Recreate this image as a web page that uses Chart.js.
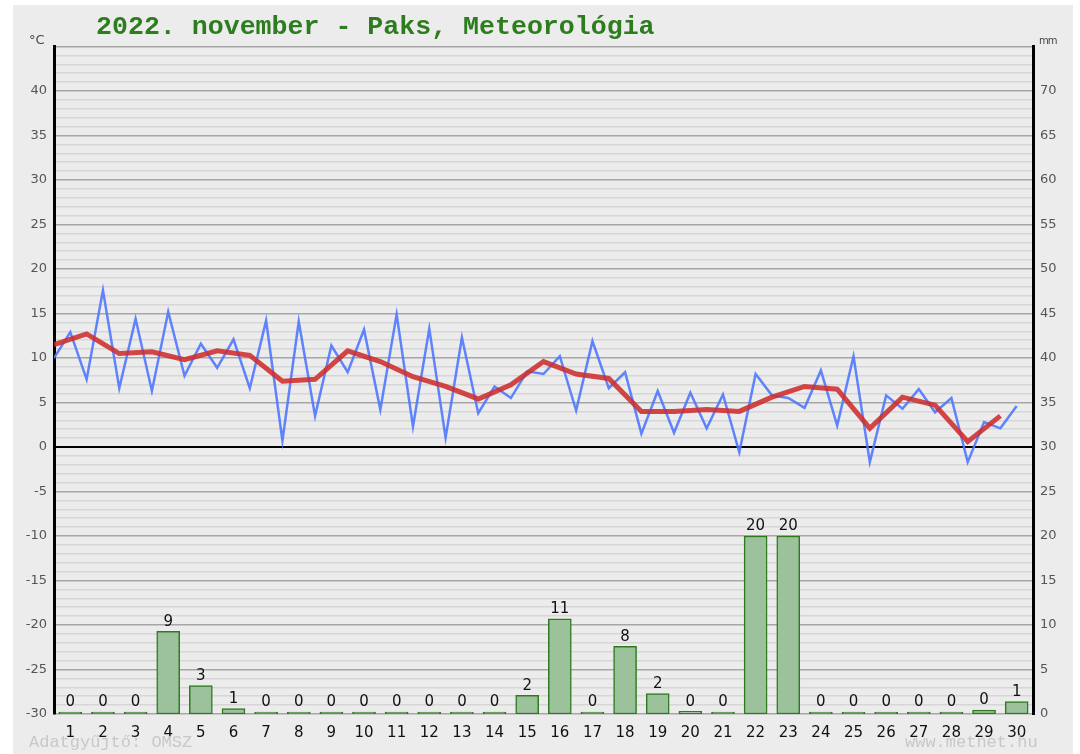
<!DOCTYPE html>
<html>
<head>
<meta charset="utf-8">
<script src="https://cdn.jsdelivr.net/npm/chart.js@4/dist/chart.umd.min.js"></script>
<style>
  body { margin: 0; background: #fff; }
  #panel { position: absolute; left: 13px; top: 5px; width: 1060px; height: 749px; background: #ececec; }
  #wrap { position: absolute; left: 0; top: 0; width: 1080px; height: 754px; }
  .txt { position: absolute; white-space: nowrap; }
  #title { left: 96px; top: 12px; font: bold 26.6px "Liberation Mono", monospace; color: #2d7d1e; }
  #unitL { left: 29px; top: 32px; font: 13px "DejaVu Sans", sans-serif; color: #444; }
  #unitR { left: 1039px; top: 35px; font: 10px "DejaVu Sans", sans-serif; color: #444; letter-spacing: -1px; }
  .foot { top: 733px; font: 17px "Liberation Mono", monospace; color: #c8c8c8; }
</style>
</head>
<body>
<div id="panel"></div>
<div id="wrap"><canvas id="grafico" width="1080" height="754"></canvas></div>
<div class="txt" id="title">2022. november - Paks, Meteorológia</div>
<div class="txt" id="unitL">°C</div>
<div class="txt" id="unitR">mm</div>
<div class="txt foot" style="left:29px">Adatgyűjtő: OMSZ</div>
<div class="txt foot" style="left:905px">www.metnet.hu</div>
<script>
// napok
const napok = ['1','2','3','4','5','6','7','8','9','10','11','12','13','14','15',
  '16','17','18','19','20','21','22','23','24','25','26','27','28','29','30'];

// csapadék (mm) naponta
const csapadek = [0, 0, 0, 9.3, 3.2, 0.6, 0, 0, 0, 0, 0, 0, 0, 0, 2.1,
  10.7, 0, 7.6, 2.3, 0.3, 0, 20, 20, 0, 0, 0, 0, 0, 0.45, 1.4];

// hőmérséklet, napi két mérés (°C)
const homerseklet = [
  10.0, 12.9, 7.6, 17.6, 6.6, 14.4, 6.3, 15.2, 8.0, 11.6,
  8.9, 12.1, 6.6, 14.2, 0.7, 14.1, 3.5, 11.4, 8.4, 13.2,
  4.2, 14.9, 2.3, 13.3, 1.05, 12.3, 3.8, 6.8, 5.5, 8.5,
  8.2, 10.2, 4.1, 11.9, 6.6, 8.4, 1.5, 6.3, 1.6, 6.1,
  2.1, 5.9, -0.6, 8.2, 5.8, 5.5, 4.4, 8.6, 2.4, 10.2,
  -1.7, 5.8, 4.3, 6.5, 3.9, 5.5, -1.7, 2.8, 2.1, 4.6
];

// napi középhőmérséklet (°C)
const atlag = [11.5, 12.7, 10.5, 10.7, 9.8, 10.8, 10.3, 7.4, 7.6, 10.8,
  9.6, 7.9, 6.8, 5.4, 7.0, 9.6, 8.2, 7.7, 4.0, 4.0,
  4.2, 4.0, 5.6, 6.8, 6.5, 2.1, 5.6, 4.7, 0.6, 3.5];

// tengelyek
const tempMin = -30, tempMax = 45;
const mmMin = 0, mmMax = 75;

const homPontok = homerseklet.map((v, i) => ({ x: i / 2, y: v }));
const atlagPontok = atlag.map((v, i) => ({ x: i, y: v }));

// számok az oszlopok fölé
const oszlopCimkek = {
  id: 'oszlopCimkek',
  afterDatasetsDraw(chart) {
    const meta = chart.getDatasetMeta(2);
    const ctx = chart.ctx;
    ctx.save();
    ctx.font = '15px "DejaVu Sans", sans-serif';
    ctx.fillStyle = '#111';
    ctx.textAlign = 'center';
    ctx.textBaseline = 'bottom';
    meta.data.forEach((bar, i) => {
      ctx.fillText(String(Math.round(csapadek[i])), bar.x, bar.y - 2);
    });
    ctx.restore();
  }
};

const ctx = document.getElementById('grafico').getContext('2d');

let grafico = new Chart(ctx, {
  type: 'line',
  data: {
    labels: napok,
    datasets: [
      {
        type: 'line',
        data: atlagPontok,
        xAxisID: 'xt', yAxisID: 'y',
        borderColor: 'rgba(205,45,45,0.88)',
        borderWidth: 5,
        pointRadius: 0,
        tension: 0,
        order: 0
      },
      {
        type: 'line',
        data: homPontok,
        xAxisID: 'xt', yAxisID: 'y',
        borderColor: 'rgba(80,120,255,0.9)',
        borderWidth: 2.5,
        pointRadius: 0,
        tension: 0,
        order: 1
      },
      {
        type: 'bar',
        data: csapadek,
        xAxisID: 'x', yAxisID: 'y2',
        backgroundColor: '#9bc29b',
        borderColor: '#2f7a1f',
        borderWidth: 1.5,
        borderSkipped: false,
        minBarLength: 2,
        barThickness: 23,
        grouped: false,
        order: 2
      }
    ]
  },
  options: {
    responsive: false,
    animation: false,
    layout: { padding: { top: 46.5, left: 0, right: 0, bottom: 0 } },
    plugins: { legend: { display: false }, tooltip: { enabled: false } },
    scales: {
      x: {
        type: 'category',
        offset: true,
        grid: { display: false },
        border: { display: false },
        ticks: { color: '#111', font: { size: 15, family: 'DejaVu Sans' }, padding: 2, maxRotation: 0, autoSkip: false },
        afterFit(s) { s.height = 40; }
      },
      xt: {
        type: 'linear',
        display: false,
        offset: false,
        min: 0, max: 30
      },
      y: {
        position: 'left',
        min: tempMin, max: tempMax,
        border: { color: '#000', width: 3 },
        grid: {
          drawTicks: false,
          color: c => c.tick.value === 0 ? '#000' : (c.tick.value % 5 === 0 ? '#a6a6a6' : '#d6d6d6'),
          lineWidth: c => c.tick.value === 0 ? 2 : 1.5
        },
        ticks: {
          stepSize: 1,
          autoSkip: false,
          padding: 7,
          color: '#555',
          font: { size: 13, family: 'DejaVu Sans' },
          callback: v => (v % 5 === 0 && v < tempMax) ? v : ''
        },
        afterFit(s) { s.width = 54; }
      },
      y2: {
        position: 'right',
        min: mmMin, max: mmMax,
        border: { color: '#000', width: 3 },
        grid: { display: false, drawTicks: false },
        ticks: {
          stepSize: 5,
          padding: 7,
          color: '#555',
          font: { size: 13, family: 'DejaVu Sans' },
          callback: v => v < mmMax ? v : ''
        },
        afterFit(s) { s.width = 47; }
      }
    }
  },
  plugins: [oszlopCimkek]
});
</script>
</body>
</html>
